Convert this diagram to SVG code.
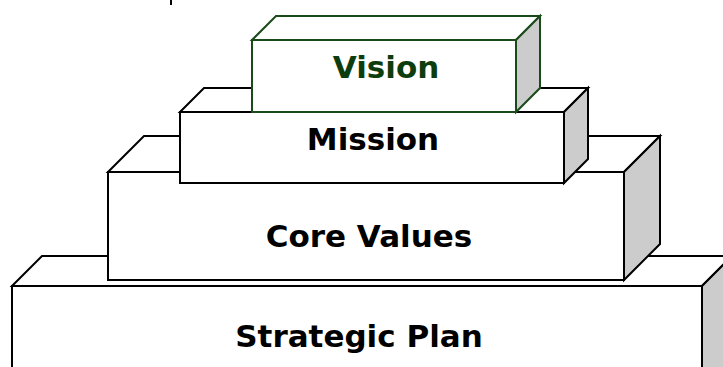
<svg xmlns="http://www.w3.org/2000/svg" width="723" height="367" viewBox="0 0 723 367">
<style>
.f{fill:#ffffff;stroke:#000000;stroke-width:2;stroke-linejoin:miter}
.s{fill:#cccccc;stroke:#000000;stroke-width:2;stroke-linejoin:miter}
.g .f,.g .s{stroke:#1a4a1a}
.t{font-family:"DejaVu Sans",Verdana,sans-serif;font-weight:bold;font-size:31px;text-anchor:middle;fill:#000000}
.gt{fill:#0d3d0d}
</style>
<rect width="723" height="367" fill="#ffffff"/>
<rect x="170" y="0" width="2" height="5" fill="#000000"/>
<g id="strategic-plan">
<rect class="f" x="12" y="286" width="690" height="120"/>
<polygon class="f" points="12,286 42,256 732,256 702,286"/>
<polygon class="s" points="702,286 732,256 732,406 702,406"/>
<text class="t" x="359" y="347">Strategic Plan</text>
</g>
<g id="core-values">
<rect class="f" x="108" y="172" width="516" height="108"/>
<polygon class="f" points="108,172 144,136 660,136 624,172"/>
<polygon class="s" points="624,172 660,136 660,244 624,280"/>
<text class="t" x="369" y="247">Core Values</text>
</g>
<g id="mission">
<rect class="f" x="180" y="112" width="384" height="71"/>
<polygon class="f" points="180,112 204,88 588,88 564,112"/>
<polygon class="s" points="564,112 588,88 588,159 564,183"/>
<text class="t" x="373" y="150">Mission</text>
</g>
<g id="vision" class="g">
<rect class="f" x="252" y="40" width="264" height="72"/>
<polygon class="f" points="252,40 276,16 540,16 516,40"/>
<polygon class="s" points="516,40 540,16 540,88 516,112"/>
<text class="t gt" x="386" y="78">Vision</text>
</g>
<g id="connectors"></g>
</svg>
